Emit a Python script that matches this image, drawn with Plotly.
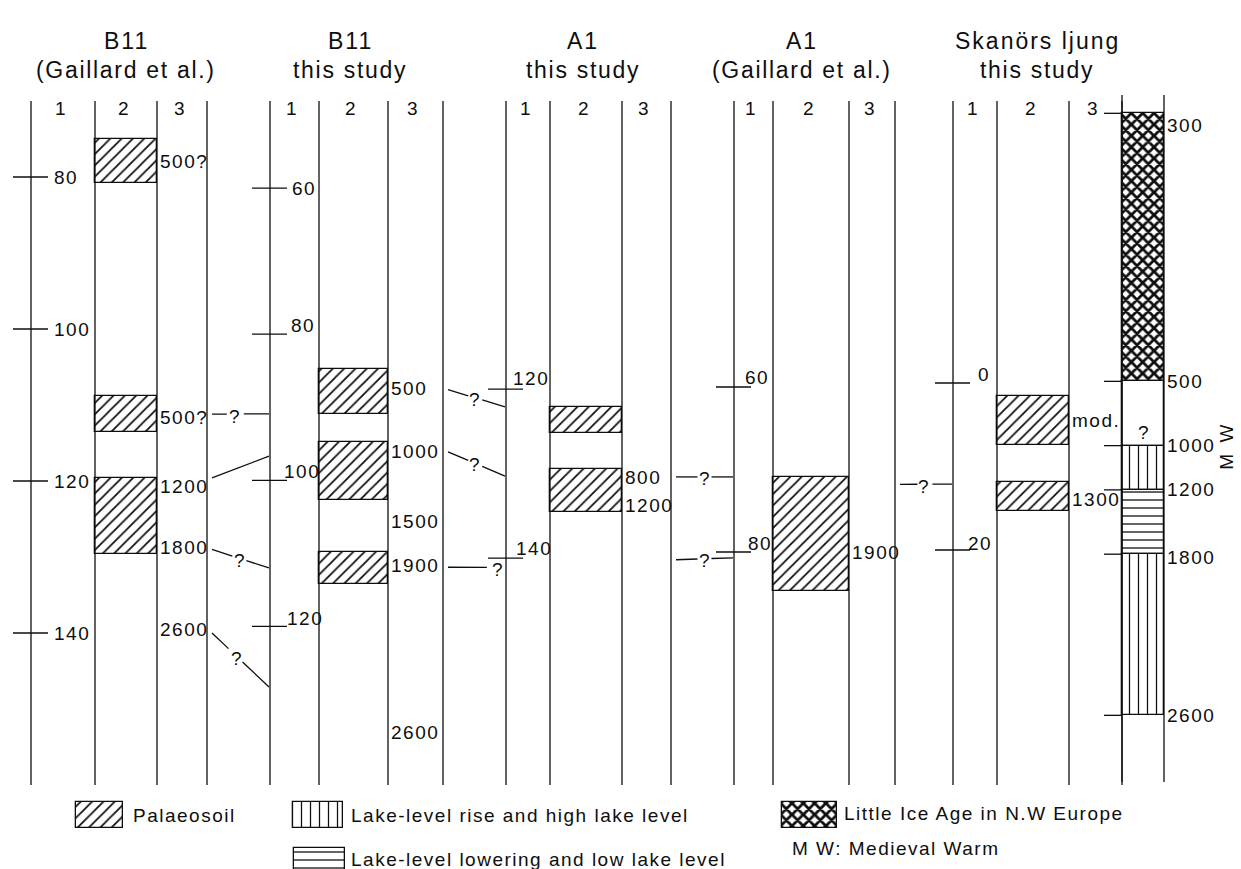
import plotly.graph_objects as go

W, H = 1241, 869
INK = "#0e0e0e"
FONT = "Liberation Sans, Arial, Helvetica, sans-serif"

# ---------------------------------------------------------------------------
# Data
# ---------------------------------------------------------------------------
section_ids = ["B11G", "B11T", "A1T", "A1G", "SK"]
section_site = ["B11", "B11", "A1", "A1", "Skanörs ljung"]
section_source = ["(Gaillard et al.)", "this study", "this study",
                  "(Gaillard et al.)", "this study"]
column_numbers = ["1", "2", "3"]

# depth scale of each core (cm)
b11g_depth_ticks = [80, 100, 120, 140]
b11t_depth_ticks = [60, 80, 100, 120]
a1t_depth_ticks = [120, 140]
a1g_depth_ticks = [60, 80]
sk_depth_ticks = [0, 20]

# palaeosoil layers: upper and lower boundary depth (cm)
b11g_soil_top = [75.0, 108.8, 119.6]
b11g_soil_bottom = [80.8, 113.6, 129.6]
b11t_soil_top = [84.8, 94.8, 109.8]
b11t_soil_bottom = [90.9, 102.7, 114.2]
a1t_soil_top = [122.1, 129.5]
a1t_soil_bottom = [125.2, 134.6]
a1g_soil_top = [70.9]
a1g_soil_bottom = [84.7]
sk_soil_top = [1.6, 11.9]
sk_soil_bottom = [7.4, 15.3]

# ages (cal. BP) written in column 3, with the depth (cm) they refer to
b11g_age_labels = ["500?", "500?", "1200", "1800", "2600"]
b11g_age_depths = [78.0, 111.6, 120.7, 128.8, 139.6]
b11t_age_labels = ["500", "1000", "1500", "1900", "2600"]
b11t_age_depths = [87.5, 96.1, 105.6, 111.7, 134.5]
a1t_age_labels = ["800", "1200"]
a1t_age_depths = [130.5, 133.8]
a1g_age_labels = ["1900"]
a1g_age_depths = [80.0]
sk_age_labels = ["mod.", "1300"]
sk_age_depths = [4.5, 14.0]

# climate column beside Skanörs ljung (levels on the Skanörs depth scale, cm)
climate_levels = [-32.3, -0.2, 7.5, 12.8, 20.5, 39.8]
climate_level_labels = ["300", "500", "1000", "1200", "1800", "2600"]
climate_units = ["ice", "none", "rise", "low", "rise"]

# correlations between neighbouring cores (depth in each core's own scale)
corr_from = ["B11G", "B11G", "B11G", "B11G", "B11T", "B11T", "B11T", "A1T", "A1T", "A1G"]
corr_to = ["B11T", "B11T", "B11T", "B11T", "A1T", "A1T", "A1T", "A1G", "A1G", "SK"]
corr_from_depth = [111.2, 119.6, 129.0, 140.0, 87.6, 96.1, 111.9, 130.4, 140.2, 71.8]
corr_to_depth = [90.9, 96.7, 112.0, 128.3, 122.1, 130.3, 141.1, 70.9, 80.7, 12.1]
corr_uncertain = [True, False, True, True, True, True, True, True, True, True]

legend_labels = ["Palaeosoil", "Lake-level rise and high lake level",
                 "Lake-level lowering and low lake level",
                 "Little Ice Age in N.W Europe"]
legend_units = ["soil", "rise", "low", "ice"]
note_text = "M W: Medieval Warm"
mw_text = "M W"

depth_ticks = dict(zip(section_ids, [b11g_depth_ticks, b11t_depth_ticks, a1t_depth_ticks,
                                     a1g_depth_ticks, sk_depth_ticks]))
soil_top = dict(zip(section_ids, [b11g_soil_top, b11t_soil_top, a1t_soil_top,
                                  a1g_soil_top, sk_soil_top]))
soil_bottom = dict(zip(section_ids, [b11g_soil_bottom, b11t_soil_bottom, a1t_soil_bottom,
                                     a1g_soil_bottom, sk_soil_bottom]))
age_labels = dict(zip(section_ids, [b11g_age_labels, b11t_age_labels, a1t_age_labels,
                                    a1g_age_labels, sk_age_labels]))
age_depths = dict(zip(section_ids, [b11g_age_depths, b11t_age_depths, a1t_age_depths,
                                    a1g_age_depths, sk_age_depths]))

# ---------------------------------------------------------------------------
# Layout (pixel geometry of the diagram)
# ---------------------------------------------------------------------------
SECTION_LINES = {
    "B11G": [31, 95, 157, 207],
    "B11T": [270, 319, 388, 443],
    "A1T": [506, 550, 622, 671],
    "A1G": [734, 773, 849, 895],
    "SK": [953, 997, 1069, 1122],
}
CLIMATE_LINES = [1122, 1164]
# depth at the top edge of the figure and pixels per cm, per core
SECTION_SCALE = {
    "B11G": (56.71, 7.6),
    "B11T": (34.25, 7.305),
    "A1T": (73.96, 8.45),
    "A1G": (13.09, 8.25),
    "SK": (-45.87, 8.35),
}
TITLE_X = [126, 350, 583, 802, 1037]
TITLE_Y = [26, 55]
NUMBER_Y = 96
LINE_TOP, LINE_BOTTOM = 101, 785
CLIMATE_TOP = 95

# placement of the depth numbers relative to the tick (dx from line, lift up)
TICK_LABEL_DX = {
    "B11G": [21, 21, 21, 21],
    "B11T": [20, 19, 12, 15],
    "A1T": [5, 8],
    "A1G": [9, 12],
    "SK": [23, 13],
}
TICK_LABEL_LIFT = {
    "B11G": [0, 0, 0, 0],
    "B11T": [0, 9, 9, 8],
    "A1T": [11, 10],
    "A1G": [10, 9],
    "SK": [9, 7],
}
# where the "?" sits along each correlation line and the gap left around it
CORR_Q_FRAC = [0.4, None, 0.48, 0.43, 0.46, 0.46, 0.875, 0.5, 0.5, 0.45]
CORR_GAP = [(8, 9), None, (7, 7), (8, 6), (6, 8), (6, 8), (11, 8), (7, 7), (7, 7), (6, 9)]
CLIMATE_LABEL_SHIFT = [-12, 0, 0, 0, -3, 0]
MW_X = 1227

PATTERNS = {
    "soil": dict(shape="/", size=8, solidity=0.22),
    "ice": dict(shape="x", size=8, solidity=0.58),
    "rise": dict(shape="|", size=9, solidity=0.14),
    "low": dict(shape="-", size=8, solidity=0.16),
    "none": dict(shape="", size=8, solidity=0.2),
}
LEGEND_SWATCH = [(76, 123, 802, 828), (293, 343, 802, 828),
                 (294, 345, 848, 874), (782, 837, 802, 828)]
LEGEND_TEXT_XY = [(131, 815), (349, 815), (349, 859), (842, 813)]
NOTE_XY = (790, 848)


def yname(i):
    return "y" if i == 0 else f"y{i + 1}"


def py(px):
    return 1 - px / H


def spaced(text, sp):
    return f'<span style="letter-spacing:{sp}px">{text}</span>'


def depth_in(sec_from, d, sec_to):
    t0, k0 = SECTION_SCALE[sec_from]
    t1, k1 = SECTION_SCALE[sec_to]
    return t1 + (d - t0) * k0 / k1


def pattern_marker(unit):
    p = PATTERNS[unit]
    return dict(color="white", line=dict(color=INK, width=1.3),
                pattern=dict(shape=p["shape"], size=p["size"], solidity=p["solidity"],
                             fgcolor=INK, bgcolor="white", fillmode="replace"))


fig = go.Figure()
line_style = dict(color=INK, width=1.3)
small = dict(family=FONT, size=19, color=INK)
big = dict(family=FONT, size=23, color=INK)

# ---- column frame lines -------------------------------------------------
for sid in section_ids:
    for xl in SECTION_LINES[sid]:
        fig.add_shape(type="line", xref="x", yref="paper", x0=xl, x1=xl,
                      y0=py(LINE_TOP), y1=py(LINE_BOTTOM), line=line_style)
for xl in CLIMATE_LINES:
    fig.add_shape(type="line", xref="x", yref="paper", x0=xl, x1=xl,
                  y0=py(CLIMATE_TOP), y1=py(LINE_BOTTOM - 3), line=line_style)

# ---- headers ------------------------------------------------------------
for i, sid in enumerate(section_ids):
    fig.add_annotation(x=TITLE_X[i], y=py(TITLE_Y[0]), xref="x", yref="paper",
                       text=spaced(section_site[i], 2), showarrow=False, font=big)
    fig.add_annotation(x=TITLE_X[i], y=py(TITLE_Y[1]), xref="x", yref="paper",
                       text=spaced(section_source[i], 1.7), showarrow=False, font=big)
    ln = SECTION_LINES[sid]
    for c, num in enumerate(column_numbers):
        fig.add_annotation(x=(ln[c] + ln[c + 1]) / 2 - 3, y=py(NUMBER_Y), xref="x",
                           yref="paper", text=num, showarrow=False, font=small)

# ---- per-core content ---------------------------------------------------
for i, sid in enumerate(section_ids):
    ya = yname(i)
    ln = SECTION_LINES[sid]

    # depth ticks on column 1
    for k, d in enumerate(depth_ticks[sid]):
        fig.add_shape(type="line", xref="x", yref=ya, x0=ln[0] - 18, x1=ln[0] + 17,
                      y0=d, y1=d, line=line_style)
        fig.add_annotation(x=ln[0] + TICK_LABEL_DX[sid][k], y=d, xref="x", yref=ya,
                           yshift=TICK_LABEL_LIFT[sid][k], text=spaced(str(d), 1.5),
                           xanchor="left", yanchor="middle", showarrow=False, font=small)

    # palaeosoils in column 2
    tops, bots = soil_top[sid], soil_bottom[sid]
    fig.add_trace(go.Bar(
        x=[(ln[1] + ln[2]) / 2] * len(tops), y=[b - t for t, b in zip(tops, bots)],
        base=tops, width=[ln[2] - ln[1]] * len(tops), xaxis="x", yaxis=ya,
        marker=pattern_marker("soil"), showlegend=False, hoverinfo="skip"))

    # ages in column 3
    for lab, d in zip(age_labels[sid], age_depths[sid]):
        fig.add_annotation(x=ln[2] + 1, y=d, xref="x", yref=ya, text=spaced(lab, 1.5),
                           xanchor="left", yanchor="middle", showarrow=False, font=small)

# ---- correlation lines between cores -------------------------------------
for n in range(len(corr_from)):
    a, b = corr_from[n], corr_to[n]
    ia = section_ids.index(a)
    ya = yname(ia)
    x0 = SECTION_LINES[a][3] + 5
    x1 = SECTION_LINES[b][0] - 1
    d0 = corr_from_depth[n]
    d1 = depth_in(b, corr_to_depth[n], a)

    def at(x):
        return d0 + (x - x0) / (x1 - x0) * (d1 - d0)

    if not corr_uncertain[n]:
        segs = [(x0, x1)]
    else:
        xq = x0 + CORR_Q_FRAC[n] * (x1 - x0)
        gl, gr = CORR_GAP[n]
        segs = [(x0, xq - gl)]
        if xq + gr < x1:
            segs.append((xq + gr, x1))
        fig.add_annotation(x=xq, y=at(xq), xref="x", yref=ya, yshift=-2, text="?",
                           showarrow=False, font=small, xanchor="center", yanchor="middle")
    for sx0, sx1 in segs:
        fig.add_trace(go.Scatter(x=[sx0, sx1], y=[at(sx0), at(sx1)], mode="lines",
                                 xaxis="x", yaxis=ya, line=line_style,
                                 showlegend=False, hoverinfo="skip"))

# ---- climate column ------------------------------------------------------
isk = section_ids.index("SK")
ysk = yname(isk)
cx0, cx1 = CLIMATE_LINES
for k, unit in enumerate(climate_units):
    t, b = climate_levels[k], climate_levels[k + 1]
    fig.add_trace(go.Bar(x=[(cx0 + cx1) / 2], y=[b - t], base=[t], width=[cx1 - cx0],
                         xaxis="x", yaxis=ysk, marker=pattern_marker(unit),
                         showlegend=False, hoverinfo="skip"))
    if unit == "none":
        fig.add_annotation(x=(cx0 + cx1) / 2, y=t + 0.8 * (b - t), xref="x", yref=ysk,
                           text="?", showarrow=False, font=small)
for k, (lev, lab) in enumerate(zip(climate_levels, climate_level_labels)):
    fig.add_shape(type="line", xref="x", yref=ysk, x0=cx0 - 18, x1=cx0, y0=lev, y1=lev,
                  line=line_style)
    fig.add_annotation(x=cx1 + 1, y=lev, xref="x", yref=ysk, yshift=CLIMATE_LABEL_SHIFT[k],
                       text=spaced(lab, 1.5), xanchor="left", yanchor="middle",
                       showarrow=False, font=small)
fig.add_annotation(x=MW_X, y=climate_levels[2], xref="x", yref=ysk,
                   text=spaced(mw_text, 3), textangle=-90, showarrow=False,
                   borderpad=0, font=dict(family=FONT, size=19, color=INK))

# ---- key -----------------------------------------------------------------
ileg = len(section_ids)
yleg = yname(ileg)
for (sx0, sx1, sy0, sy1), unit, lab, (tx, ty) in zip(LEGEND_SWATCH, legend_units,
                                                      legend_labels, LEGEND_TEXT_XY):
    fig.add_trace(go.Bar(x=[(sx0 + sx1) / 2], y=[sy1 - sy0], base=[sy0],
                         width=[sx1 - sx0], xaxis="x", yaxis=yleg,
                         marker=pattern_marker(unit), showlegend=False, hoverinfo="skip"))
    fig.add_annotation(x=tx, y=ty, xref="x", yref=yleg, text=spaced(lab, 1.5),
                       xanchor="left", yanchor="middle", showarrow=False, font=small)
fig.add_annotation(x=NOTE_XY[0], y=NOTE_XY[1], xref="x", yref=yleg,
                   text=spaced(note_text, 1.5), xanchor="left", yanchor="middle",
                   showarrow=False, font=small)

# ---- axes ----------------------------------------------------------------
axes = {}
for i, sid in enumerate(section_ids):
    top, k = SECTION_SCALE[sid]
    ax = dict(range=[top + H / k, top], visible=False, fixedrange=True, domain=[0, 1])
    if i > 0:
        ax["overlaying"] = "y"
    axes["yaxis" if i == 0 else f"yaxis{i + 1}"] = ax
axes[f"yaxis{ileg + 1}"] = dict(range=[H, 0], visible=False, fixedrange=True,
                                overlaying="y", domain=[0, 1])

fig.update_layout(
    width=W, height=H,
    margin=dict(l=0, r=0, t=0, b=0),
    paper_bgcolor="white", plot_bgcolor="white",
    barmode="overlay", bargap=0,
    showlegend=False,
    font=dict(family=FONT, color=INK),
    xaxis=dict(range=[0, W], visible=False, fixedrange=True),
    **axes,
)

fig.write_html("out.html", config={"displayModeBar": False})
